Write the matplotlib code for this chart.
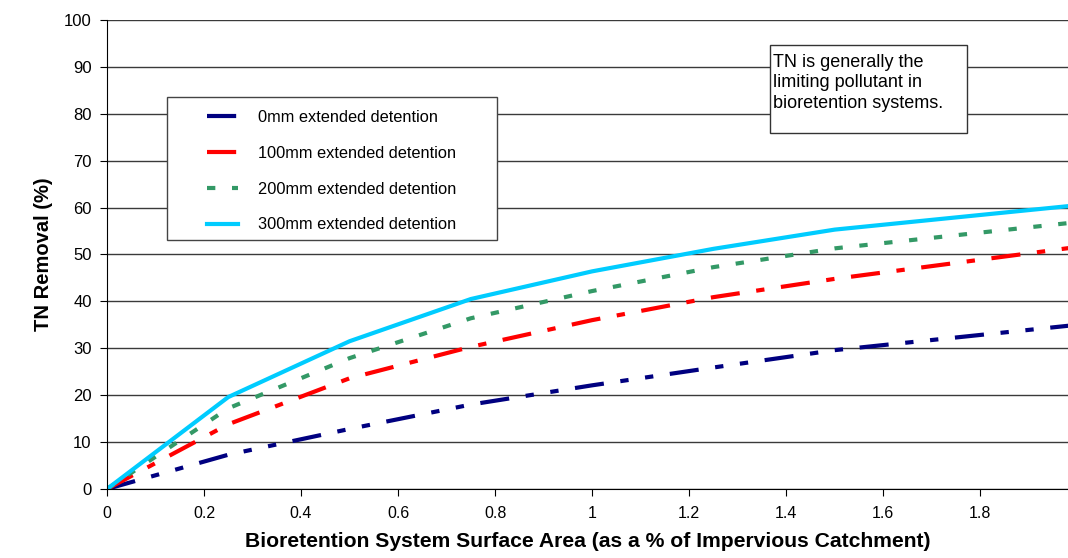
import numpy as np
import matplotlib
matplotlib.use('Agg')
import matplotlib.pyplot as plt
from matplotlib.patches import Rectangle

plt.rcParams['font.family'] = ['Liberation Sans', 'DejaVu Sans']

# surface area (% of impervious catchment) and TN removal (%)
area = [0, 0.25, 0.5, 0.75, 1.0, 1.25, 1.5, 2.0]
tn_0mm = [0, 7.3, 12.8, 18.0, 22.1, 25.9, 29.6, 35.0]
tn_100mm = [0, 13.8, 23.6, 30.3, 36.0, 40.9, 44.8, 51.6]
tn_200mm = [0, 17.2, 27.9, 36.4, 42.2, 47.3, 51.3, 56.9]
tn_300mm = [0, 19.6, 31.5, 40.5, 46.4, 51.2, 55.3, 60.5]
labels = ['0mm extended detention', '100mm extended detention',
          '200mm extended detention', '300mm extended detention']
xticks = [0, 0.2, 0.4, 0.6, 0.8, 1, 1.2, 1.4, 1.6, 1.8]

fig = plt.figure(figsize=(10.68, 5.58), dpi=100)
ax = fig.add_axes([0.1002, 0.1237, 0.8998, 0.8405])

ax.plot(area, tn_0mm, color='#000080', lw=3, ls=(0, (7, 4, 2, 4, 2, 4)), label=labels[0])
ax.plot(area, tn_100mm, color='#FF0000', lw=3, ls=(0, (7, 4, 2, 4)), label=labels[1])
ax.plot(area, tn_200mm, color='#339966', lw=3, ls=(0, (2, 4)), label=labels[2])
ax.plot(area, tn_300mm, color='#00CCFF', lw=3, ls='-', label=labels[3])

ax.set_xlim(0, 1.981)
ax.set_ylim(0, 100)
ax.set_xticks(xticks)
ax.set_xticklabels([str(t) for t in xticks])
ax.set_yticks(np.arange(0, 101, 10))
ax.yaxis.grid(True, color='#3a3a3a', lw=1)
ax.set_axisbelow(True)
ax.spines['top'].set_visible(False)
ax.spines['right'].set_visible(False)
ax.tick_params(axis='both', direction='out', length=5, colors='black')
ax.tick_params(axis='x', labelsize=11.5, pad=7)
ax.tick_params(axis='y', labelsize=12, pad=6)

ax.set_xlabel('Bioretention System Surface Area (as a % of Impervious Catchment)',
              fontsize=15.2, fontweight='bold', labelpad=8)
ax.set_ylabel('TN Removal (%)', fontsize=14.5, fontweight='bold', labelpad=8)

# legend box drawn separately (wide side padding like the original)
ax.add_patch(Rectangle((0.0624, 0.531), 0.3434, 0.305, transform=ax.transAxes,
                       fc='white', ec='#444444', lw=1, zorder=5))
leg = ax.legend(loc='upper left', bbox_to_anchor=(0.104, 0.809), borderaxespad=0,
                fontsize=11.8, frameon=False, handlelength=1.9, borderpad=0,
                handletextpad=1.2, labelspacing=1.28)
leg.set_zorder(6)

ax.add_patch(Rectangle((0.690, 0.759), 0.205, 0.188, transform=ax.transAxes,
                       fc='white', ec='#333333', lw=1, zorder=5))
ax.text(0.693, 0.928, 'TN is generally the\nlimiting pollutant in\nbioretention systems.',
        transform=ax.transAxes, fontsize=13, va='top', ha='left', linespacing=1.27,
        zorder=6)

fig.savefig('out.png', dpi=100)
